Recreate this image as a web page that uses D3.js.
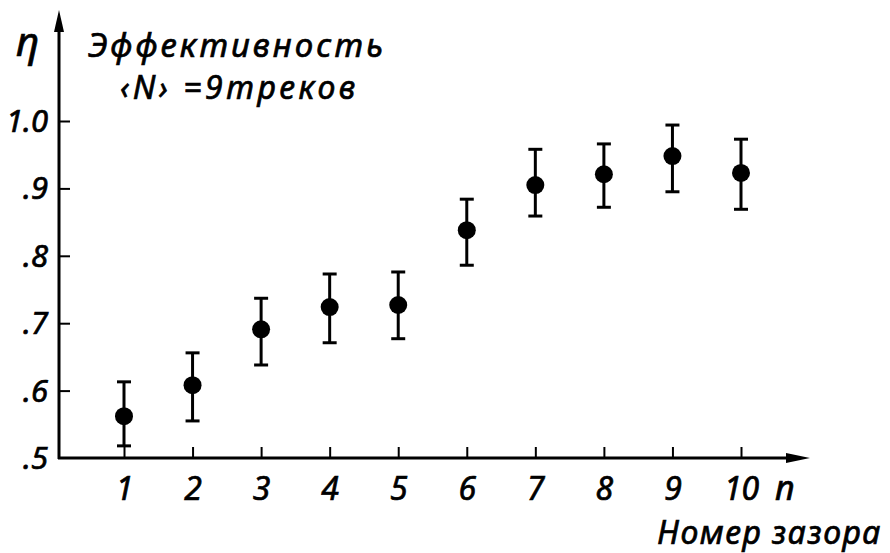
<!DOCTYPE html>
<html>
<head>
<meta charset="utf-8">
<script src="https://cdn.jsdelivr.net/npm/d3@7"></script>
<style>
  body { margin: 0; background: #fff; }
  svg { display: block; }
  text { font-family: "Noto Sans", "DejaVu Sans", sans-serif; font-style: italic; fill: #000; stroke: #000; stroke-width: 0.7px; }
</style>
</head>
<body>
<svg id="plot" width="890" height="553"></svg>
<script>
// data
const gapNumbers = [1, 2, 3, 4, 5, 6, 7, 8, 9, 10];
const efficiency = [0.562, 0.608, 0.691, 0.724, 0.727, 0.838, 0.905, 0.921, 0.948, 0.923];
const errLow = [0.518, 0.555, 0.638, 0.671, 0.677, 0.786, 0.859, 0.872, 0.895, 0.869];
const errHigh = [0.613, 0.656, 0.737, 0.773, 0.776, 0.884, 0.958, 0.966, 0.994, 0.973];
const yTicks = [0.5, 0.6, 0.7, 0.8, 0.9, 1.0];
const yTickLabels = [".5", ".6", ".7", ".8", ".9", "1.0"];

const points = gapNumbers.map((n, i) => ({
  n, v: efficiency[i], lo: errLow[i], hi: errHigh[i]
}));

const svg = d3.select("#plot");
const originX = 59;
const originY = 458;

// scales
const xScale = d3.scaleLinear().domain([1, 10]).range([124, 741]);
const yScale = d3.scaleLinear().domain([0.5, 1.0]).range([originY, 121]);

// y axis ticks (inward) and labels
const yAxis = d3.axisLeft(yScale)
  .tickValues(yTicks.slice(1))
  .tickSize(-11)
  .tickFormat((d) => yTickLabels[yTicks.indexOf(d)]);
const yAxisGroup = svg.append("g")
  .attr("transform", `translate(${originX},0)`)
  .call(yAxis);
yAxisGroup.select(".domain").remove();
yAxisGroup.selectAll(".tick line").attr("stroke", "#000").attr("stroke-width", 2);
yAxisGroup.selectAll(".tick text").remove();

svg.append("g")
  .selectAll("text")
  .data(yTicks)
  .join("text")
  .attr("x", 48)
  .attr("y", (d) => yScale(d) + 11)
  .attr("text-anchor", "end")
  .attr("font-size", 31)
  .text((d, i) => yTickLabels[i]);

// x axis ticks (upward) and labels
const xAxis = d3.axisBottom(xScale)
  .tickValues(gapNumbers)
  .tickSize(-11)
  .tickFormat(d3.format("d"));
const xAxisGroup = svg.append("g")
  .attr("transform", `translate(0,${originY})`)
  .call(xAxis);
xAxisGroup.select(".domain").remove();
xAxisGroup.selectAll(".tick line").attr("stroke", "#000").attr("stroke-width", 2);
xAxisGroup.selectAll(".tick text")
  .attr("y", 42)
  .attr("dy", 0)
  .attr("font-size", 32)
  .attr("font-family", "\"Noto Sans\", sans-serif")
  .attr("font-style", "italic")
  .attr("fill", "#000")
  .attr("stroke", "#000")
  .attr("stroke-width", 0.5);

// axis lines with arrows
svg.append("line")
  .attr("x1", originX).attr("y1", originY + 1)
  .attr("x2", originX).attr("y2", 28)
  .attr("stroke", "#000").attr("stroke-width", 3);
svg.append("path")
  .attr("d", `M${originX - 5},32 L${originX},10 L${originX + 5},32 Z`)
  .attr("fill", "#000");
svg.append("line")
  .attr("x1", originX - 1).attr("y1", originY)
  .attr("x2", 790).attr("y2", originY)
  .attr("stroke", "#000").attr("stroke-width", 3);
svg.append("path")
  .attr("d", `M786,${originY - 5} L810,${originY} L786,${originY + 5} Z`)
  .attr("fill", "#000");

// error bars
const bars = svg.append("g")
  .selectAll("g")
  .data(points)
  .join("g")
  .attr("stroke", "#000")
  .attr("stroke-width", 3);
bars.append("line")
  .attr("x1", (d) => xScale(d.n)).attr("x2", (d) => xScale(d.n))
  .attr("y1", (d) => yScale(d.lo)).attr("y2", (d) => yScale(d.hi));
bars.append("line")
  .attr("x1", (d) => xScale(d.n) - 7).attr("x2", (d) => xScale(d.n) + 7)
  .attr("y1", (d) => yScale(d.hi)).attr("y2", (d) => yScale(d.hi));
bars.append("line")
  .attr("x1", (d) => xScale(d.n) - 7).attr("x2", (d) => xScale(d.n) + 7)
  .attr("y1", (d) => yScale(d.lo)).attr("y2", (d) => yScale(d.lo));

// markers
svg.append("g")
  .selectAll("circle")
  .data(points)
  .join("circle")
  .attr("cx", (d) => xScale(d.n))
  .attr("cy", (d) => yScale(d.v))
  .attr("r", 9)
  .attr("fill", "#000");

// labels
svg.append("text").attr("x", 16).attr("y", 56).attr("font-size", 40).text("η");
svg.append("text").attr("x", 88).attr("y", 57)
  .attr("font-size", 33).attr("letter-spacing", 3).text("Эффективность");
svg.append("text").attr("x", 120).attr("y", 99)
  .attr("font-size", 32).attr("letter-spacing", 3.5).text("‹N› =9треков");
svg.append("text").attr("x", 775).attr("y", 500).attr("font-size", 34).text("n");
svg.append("text").attr("x", 882).attr("y", 544).attr("text-anchor", "end")
  .attr("font-size", 32).attr("letter-spacing", 1.5).text("Номер зазора");
</script>
</body>
</html>
